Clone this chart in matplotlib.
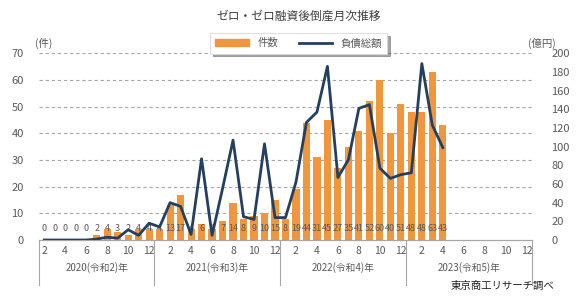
import matplotlib
matplotlib.use("Agg")
import matplotlib.pyplot as plt
import matplotlib.transforms as mtransforms
from matplotlib.lines import Line2D
from matplotlib.patches import Patch

plt.rcParams["font.family"] = ["Noto Sans CJK JP", "DejaVu Sans"]

# 2020年2月〜2023年4月
years = ["2020(令和2)年", "2021(令和3)年", "2022(令和4)年", "2023(令和5)年"]
first_months = [2, 1, 1, 1]

counts = [0, 0, 0, 0, 0, 2, 4, 3, 2, 4, 4,
          4, 13, 17, 4, 6, 4, 7, 14, 8, 9, 10, 15,
          8, 19, 44, 31, 45, 27, 35, 41, 52, 60, 40, 51,
          48, 48, 63, 43]

debt = [0, 0, 0, 0, 0, 1, 3, 2, 11, 5, 18,
        14, 40, 36, 6, 87, 5, 55, 107, 25, 22, 103, 24,
        24, 62, 126, 137, 186, 67, 86, 141, 145, 77, 66, 70,
        72, 189, 123, 99]

bar_color = "#F0963F"
line_color = "#243F60"
text_color = "#595959"

# カテゴリ(月)の並び
months = []
year_start = []
for fm in first_months:
    year_start.append(len(months))
    months += list(range(fm, 13))
n = len(months)
xs = list(range(n))

fig = plt.figure(figsize=(5.8, 2.98), dpi=100)
ax = fig.add_axes([0.0672, 0.1946, 0.850, 0.6266])
ax2 = ax.twinx()

ax.bar(xs[:len(counts)], counts, width=0.68, color=bar_color, zorder=2)
ax2.plot(xs[:len(debt)], debt, color=line_color, lw=2.0, zorder=3)

ax.set_xlim(-0.5, n - 0.5)
ax.set_ylim(0, 70)
ax2.set_ylim(0, 200)
ax.set_yticks(range(0, 71, 10))
ax2.set_yticks(range(0, 201, 20))

ax.set_zorder(ax2.get_zorder() - 1)
ax.patch.set_visible(False)

for v in range(10, 71, 10):
    ax.axhline(v, color="#A6A6A6", lw=0.8, ls=(0, (3, 2.5)), zorder=1)

# 件数ラベル
for x, c in zip(xs, counts):
    ax.text(x, 4.2, str(c), ha="center", va="center", fontsize=6.5,
            color=text_color, zorder=2.5)

tick_pos = [x for x, m in zip(xs, months) if m % 2 == 0]
tick_lab = [str(months[x]) for x in tick_pos]
ax.set_xticks(tick_pos)
ax.set_xticklabels(tick_lab)
ax.tick_params(axis="x", length=0, pad=4, labelsize=7.5, colors=text_color)
ax.tick_params(axis="y", length=0, pad=11, labelsize=8, colors=text_color)
ax2.tick_params(axis="y", length=0, pad=14, labelsize=8, colors=text_color)

for a in (ax, ax2):
    for s in ("top", "left", "right"):
        a.spines[s].set_visible(False)
    a.spines["bottom"].set_color("#A6A6A6")

# 年の区切りとラベル
trans = mtransforms.blended_transform_factory(ax.transData, ax.transAxes)
bounds = year_start + [n]
for b in bounds:
    ax.add_line(Line2D([b - 0.5, b - 0.5], [0, -0.24], transform=trans,
                       color="#A6A6A6", lw=0.8, clip_on=False))
for i, y in enumerate(years):
    mid = (bounds[i] + bounds[i + 1] - 1) / 2
    ax.text(mid, -0.15, y, transform=trans, ha="center", va="center",
            fontsize=7, color=text_color)

fig.text(0.515, 0.945, "ゼロ・ゼロ融資後倒産月次推移", ha="center", va="center",
         fontsize=8.5, color="#404040")
fig.text(0.075, 0.853, "(件)", ha="center", va="center", fontsize=7.5, color=text_color)
fig.text(0.935, 0.853, "(億円)", ha="center", va="center", fontsize=7.5, color=text_color)
fig.text(0.955, 0.04, "東京商工リサーチ調べ", ha="right", va="center", fontsize=7.5,
         color="#202020")

handles = [Patch(color=bar_color), Line2D([], [], color=line_color, lw=2)]
leg = fig.legend(handles, ["件数", "負債総額"], loc="center",
                 bbox_to_anchor=(0.515, 0.855), ncol=2, fontsize=7.5,
                 frameon=True, shadow=True, fancybox=False, handlelength=3.2,
                 handleheight=0.6, columnspacing=2.0, borderpad=0.5)
leg.get_frame().set_edgecolor("#D9D9D9")
leg.get_frame().set_linewidth(0.6)
for t in leg.get_texts():
    t.set_color(text_color)

fig.savefig("out.png", dpi=100)
